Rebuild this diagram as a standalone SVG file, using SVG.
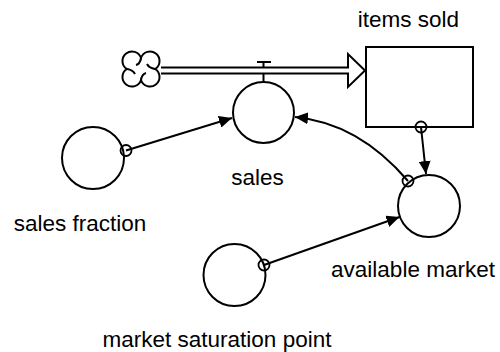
<svg xmlns="http://www.w3.org/2000/svg" width="500" height="352" viewBox="0 0 500 352">
<style>
.s{fill:none;stroke:#000;stroke-width:2}
.n{fill:#fff;stroke:#000;stroke-width:2}
.t{font-family:"Liberation Sans",Arial,sans-serif;font-size:22.5px;fill:#000;text-anchor:middle}
.c{fill:none;stroke:#000;stroke-width:2;marker-end:url(#ah)}
.o{fill:none;stroke:#000;stroke-width:1.8}
</style>
<defs>
<marker id="ah" markerUnits="userSpaceOnUse" markerWidth="14" markerHeight="12" refX="13" refY="6" orient="auto" viewBox="0 0 14 12">
<path d="M0,0 L13,6 L0,12 z" fill="#000"/>
</marker>
</defs>
<g id="flow-sales">
<path class="s" d="M263.5,82 V62 M257,62 H271"/>
<g id="cloud" transform="translate(141,69)">
<path class="n" d="M0,-11 A9.5,9.5 0 1,0 -14.1,0 A9.5,9.5 0 1,0 0,11 A9.5,9.5 0 1,0 14.1,0 A9.5,9.5 0 1,0 0,-11 Z"/>
<path class="s" d="M0,-11 Q-1,-5 -5,-4 M-14.1,0 Q-8,1 -6,5 M0,11 Q1,5 5,4 M14.1,0 Q8,-1 6,-5"/>
</g>
<path class="n" d="M161,67.5 H348 V54 L365,70.5 L348,87 V73.5 H161"/>
</g>
<g id="items-sold">
<rect class="n" x="366" y="47" width="107" height="80"/>
<text class="t" x="408.5" y="27">items sold</text>
</g>
<g id="sales">
<circle class="n" cx="263.5" cy="112.5" r="30.5"/>
<text class="t" x="257.5" y="185">sales</text>
</g>
<g id="sales-fraction">
<circle class="n" cx="93" cy="158" r="31"/>
<text class="t" x="80" y="231">sales fraction</text>
</g>
<g id="available-market">
<circle class="n" cx="429" cy="206" r="31"/>
<text class="t" x="413" y="277">available market</text>
</g>
<g id="market-saturation-point">
<circle class="n" cx="234.5" cy="275" r="31"/>
<text class="t" x="217" y="347">market saturation point</text>
</g>
<g id="connectors">
<path class="c" d="M126,150.5 L232,118"/>
<circle class="o" cx="126" cy="150.5" r="5.5"/>
<path class="c" d="M408,181 Q358.5,123 295,117"/>
<circle class="o" cx="408" cy="181" r="5.5"/>
<path class="c" d="M421,127 L426,174"/>
<circle class="o" cx="421" cy="127" r="5.5"/>
<path class="c" d="M264,265 L399.5,217"/>
<circle class="o" cx="264" cy="265" r="5.5"/>
</g>
</svg>
